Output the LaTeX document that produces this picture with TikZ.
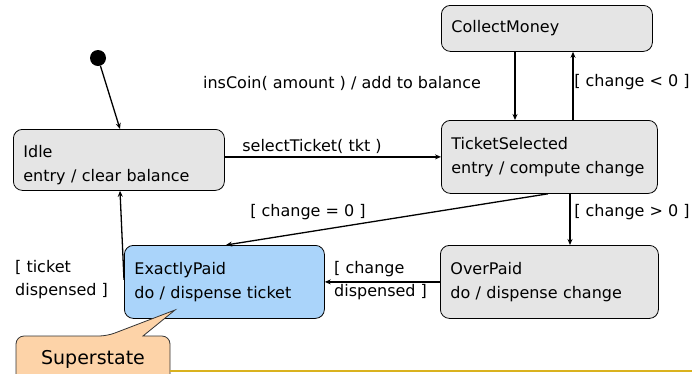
\documentclass[tikz,border=0pt]{standalone}
\usepackage{fontspec}
\setmainfont{DejaVu Sans}
\usetikzlibrary{arrows.meta,calc}
\definecolor{stgray}{RGB}{229,229,229}
\definecolor{stblue}{RGB}{170,212,250}
\definecolor{peach}{RGB}{253,211,168}
\definecolor{gold}{RGB}{218,178,30}
\begin{document}
\begin{tikzpicture}[x=1pt,y=-1pt,
  st/.style={draw=black, line width=0.8pt, rounded corners=9pt, fill=stgray,
    anchor=north west, align=left, inner xsep=10pt, inner ysep=0pt,
    font=\fontsize{16}{24}\selectfont},
  arr/.style={draw=black, line width=1.3pt, -{Stealth[length=6pt,width=5pt]}},
  lbl/.style={font=\fontsize{16}{23}\selectfont, inner sep=0pt}]
\useasboundingbox (0,0) rectangle (692,373);

\node[st, minimum width=211pt, minimum height=61pt, text width=191pt] (idle) at (13,129) {\rule{0pt}{22pt}Idle\\entry / clear balance};
\node[st, minimum width=211pt, minimum height=46pt, text width=191pt] (collect) at (441,5) {CollectMoney};
\node[st, minimum width=216pt, minimum height=73pt, text width=196pt] (ticket) at (441,120) {TicketSelected\\entry / compute change};
\node[st, fill=stblue, minimum width=200pt, minimum height=73pt, text width=180pt] (exact) at (124,245) {ExactlyPaid\\do / dispense ticket};
\node[st, minimum width=218pt, minimum height=73pt, text width=198pt] (over) at (440,245) {OverPaid\\do / dispense change};

\node[circle, fill=black, inner sep=0pt, minimum size=16pt] (init) at (98,58) {};

% callout
\draw[fill=peach, draw=black!80, line width=0.8pt, rounded corners=8pt]
  (16,380) -- (16,336) -- (107,336) [sharp corners] -- (175,310) -- (143,336) [rounded corners=8pt] -- (170,336) -- (170,380);
\node[font=\fontsize{19}{22}\selectfont, inner sep=0pt] (sup) at (93,359) {Superstate};
\draw[gold, line width=1.8pt] (170,371) -- (692,371);

% transitions
\draw[arr] (init) -- ($(idle.north west)+(107,0)$);
\draw[arr] (idle.east |- ticket.west) -- (ticket.west);
\draw[arr] ($(collect.south west)+(74,0)$) -- ($(ticket.north west)+(74,0)$);
\draw[arr] ($(ticket.north west)+(132,0)$) -- ($(collect.south west)+(132,0)$);
\draw[arr] ($(ticket.south west)+(107,0)$) -- ($(exact.north west)+(102,0)$);
\draw[arr, line width=1.8pt] ($(ticket.south west)+(129,0)$) -- ($(over.north west)+(130,0)$);
\draw[arr, line width=1.8pt] (over.west) -- (exact.east);
\draw[arr] ($(exact.west)+(0,-2)$) -- ($(idle.south west)+(107,0)$);

% labels
\node[lbl] (l1) at (312,146) {selectTicket( tkt )};
\node[lbl] (l2) at (342,83) {insCoin( amount ) / add to balance};
\node[lbl] (l3) at (632,82) {[ change < 0 ]};
\node[lbl] (l4) at (308,212) {[ change = 0 ]};
\node[lbl] (l5) at (632,212) {[ change > 0 ]};
\node[lbl, align=left, anchor=west] (l6) at (334,281) {[ change\\dispensed ]};
\node[lbl, align=left, anchor=west] (l7) at (15,280) {[ ticket\\dispensed ]};
\end{tikzpicture}
\end{document}
